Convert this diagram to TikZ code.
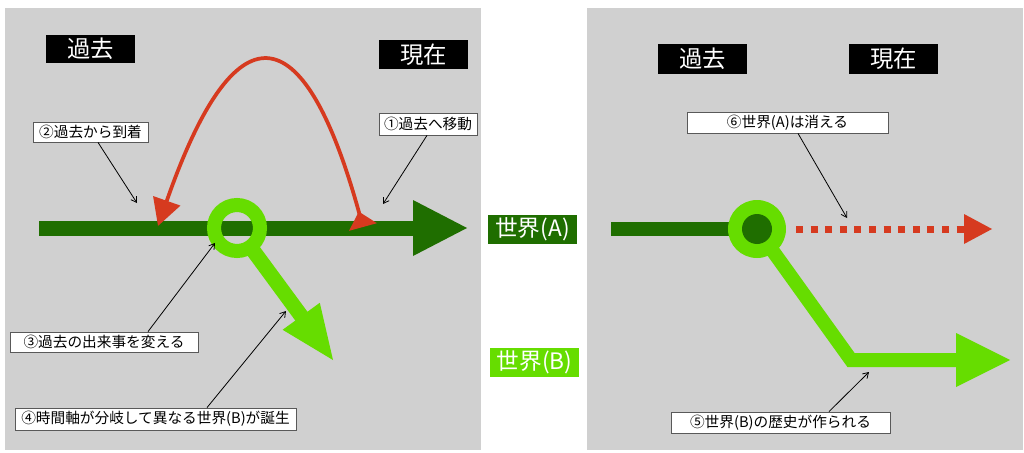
\documentclass[tikz,border=0pt]{standalone}
\usepackage{fontspec}
\setmainfont{Noto Sans CJK JP}
\usetikzlibrary{arrows.meta,calc}
\definecolor{bg}{HTML}{D0D0D0}
\definecolor{dkg}{HTML}{1F6E00}
\definecolor{ltg}{HTML}{66DD00}
\definecolor{rd}{HTML}{D63A1F}
\begin{document}
\begin{tikzpicture}[x=0.75pt,y=-0.75pt,
 title/.style={fill=black,text=white,minimum width=66.75pt,minimum height=21.5pt,inner sep=0pt,font=\fontsize{17.5}{18}\selectfont},
 callout/.style={draw=black!65,line width=0.6pt,fill=white,inner sep=0pt,font=\fontsize{11}{12}\selectfont},
 world/.style={text=white,inner sep=0pt,minimum width=66.75pt,minimum height=21.75pt,font=\fontsize{17}{18}\selectfont},
 pointer/.style={-{Straight Barb[length=4pt,width=5pt]},line width=0.6pt,black}]
\useasboundingbox (0,0) rectangle (1024,453);
\fill[white] (0,0) rectangle (1024,453);
% panels
\fill[bg] (5,8) rectangle (481,450);
\fill[bg] (587,8) rectangle (1023,450);

% ---------- left panel ----------
\node[title] (pastL) at (90.5,49) {過去};
\node[title] (nowL) at (423.5,54.5) {現在};
% main timeline A
\fill[dkg] (39,220.5) rectangle (414,235.5);
\fill[dkg] (413,200) -- (467,228) -- (413,256) -- cycle;
% branch B
\draw[ltg,line width=11.25pt] (252,249) -- (302,317);
\fill[ltg] (282.6,329.8) -- (333,360) -- (319.8,302.8) -- cycle;
\draw[ltg,line width=10.5pt] (237,228) circle[radius=23];
% red jump arc
\coordinate (arcS) at (363,227);
\coordinate (arcE) at (158,226);
\draw[rd,line width=2.8pt,{Triangle[reversed,length=12pt,width=21pt]}-{Triangle[length=20pt,width=21pt]}]
  (arcS) .. controls (303,8) and (234,8) .. (arcE);
% callouts
\node[callout,minimum width=86.25pt,minimum height=15pt] (c2) at (90.5,132) {②過去から到着};
\node[callout,minimum width=73.5pt,minimum height=16.5pt] (c1) at (428,124) {①過去へ移動};
\node[callout,minimum width=141pt,minimum height=15pt] (c3) at (104,342) {③過去の出来事を変える};
\node[callout,minimum width=210.75pt,minimum height=16.5pt] (c4) at (155.5,419) {④時間軸が分岐して異なる世界(B)が誕生};
\coordinate (t2) at (137,203);
\coordinate (t1) at (383,204);
\coordinate (t3) at (215,243);
\coordinate (t4) at (286,311);
\draw[pointer] ($(c2.south)+(7.5,0)$) -- (t2);
\draw[pointer] ($(c1.south)+(-1,0)$) -- (t1);
\draw[pointer] ($(c3.north)+(44,0)$) -- (t3);
\draw[pointer] ($(c4.north)+(51.5,0)$) -- (t4);

% ---------- middle labels ----------
\node[world,fill=dkg] (wA) at (532.5,229.5) {世界(A)};
\node[world,fill=ltg] (wB) at (534.5,362.5) {世界(B)};

% ---------- right panel ----------
\node[title,minimum height=22.5pt] (pastR) at (702.5,59) {過去};
\node[title,minimum height=22.5pt] (nowR) at (893.5,59) {現在};
\fill[dkg] (611,221.5) rectangle (740,235.5);
\draw[ltg,line width=10.5pt,line join=miter] (757,229) -- (851,360) -- (957,360);
\fill[ltg] (956,333) -- (1010,360) -- (956,387) -- cycle;
\fill[ltg] (757,229) circle[radius=29];
\fill[dkg] (757,229) circle[radius=15];
\draw[rd,line width=5.25pt,dash pattern=on 5.25pt off 5.7pt] (796,229) -- (964,229);
\fill[rd] (964,214) -- (992,229) -- (964,244) -- cycle;
\node[callout,minimum width=150.75pt,minimum height=15.75pt] (c6) at (787.5,122.5) {⑥世界(A)は消える};
\node[callout,minimum width=164.25pt,minimum height=15.75pt] (c5) at (780.5,422.5) {⑤世界(B)の歴史が作られる};
\coordinate (t6) at (847,218);
\coordinate (t5) at (869,372);
\draw[pointer] ($(c6.south)+(10.5,0)$) -- (t6);
\draw[pointer] ($(c5.north)+(48.5,0)$) -- (t5);
\end{tikzpicture}
\end{document}
